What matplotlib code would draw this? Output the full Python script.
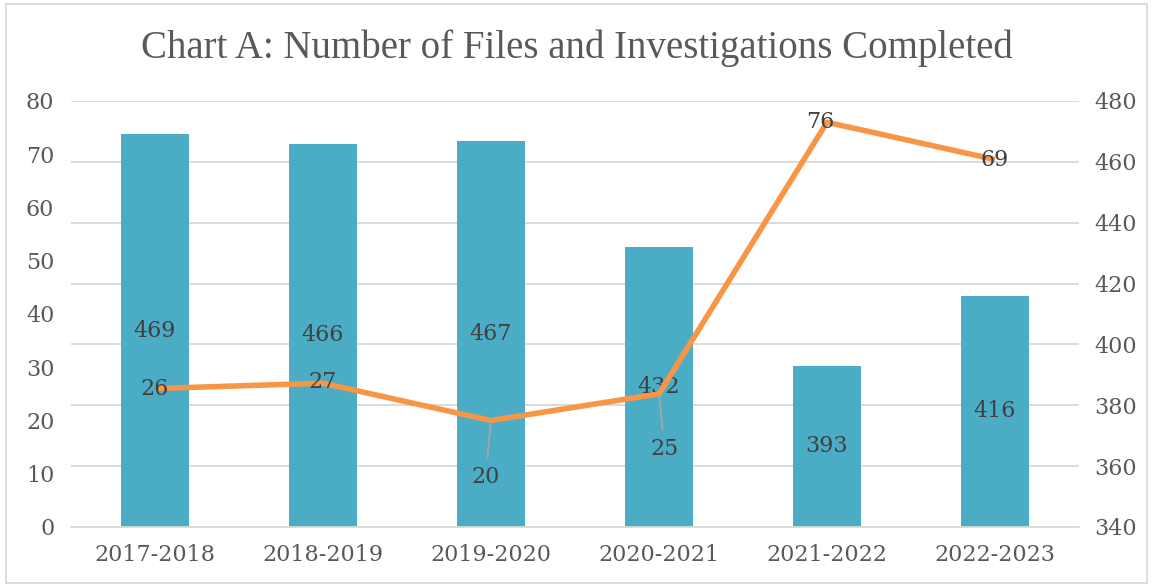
import numpy as np
import matplotlib.pyplot as plt
from matplotlib.patches import Rectangle

years = ['2017-2018', '2018-2019', '2019-2020', '2020-2021', '2021-2022', '2022-2023']
files = [469, 466, 467, 432, 393, 416]          # bars, right axis
investigations = [26, 27, 20, 25, 76, 69]       # line, left axis

bar_color = '#4BACC6'
line_color = '#F79646'
grid_color = '#D9D9D9'
tick_color = '#595959'
label_color = '#404040'
font = 'DejaVu Serif'

fig = plt.figure(figsize=(11.53, 5.86), dpi=100)
ax1 = fig.add_axes([0.0616, 0.1007, 0.8742, 0.7270])
ax2 = ax1.twinx()

x = np.arange(len(years))

# bars on the secondary axis, drawn underneath the line
bars = ax2.bar(x, files, width=0.4, color=bar_color, zorder=2)
ax2.set_ylim(340, 480)
ax2.set_yticks(np.arange(340, 481, 20))
ax2.grid(axis='y', color=grid_color, linewidth=1.3, zorder=0)
ax2.set_axisbelow(True)
ax2.bar_label(bars, labels=[str(v) for v in files], label_type='center',
              fontsize=16, color=label_color, family=font)

ax1.set_zorder(ax2.get_zorder() + 1)
ax1.patch.set_visible(False)
ax1.plot(x, investigations, color=line_color, linewidth=4, solid_capstyle='butt', zorder=3)
ax1.set_ylim(0, 80)
ax1.set_yticks(np.arange(0, 81, 10))
ax1.set_xlim(-0.5, len(years) - 0.5)
ax1.set_xticks(x)
ax1.set_xticklabels(years)

# line data labels; a few are pushed below with leader lines
offsets = [(0, 0), (0, 1), (-4, -41), (4, -40), (-5, 0), (0, 0)]
for xi, v, (dx, dy) in zip(x, investigations, offsets):
    if dy < -10:
        ax1.annotate(str(v), (xi, v), xytext=(dx, dy), textcoords='offset points',
                     ha='center', va='center', fontsize=16, color=label_color, family=font,
                     arrowprops=dict(arrowstyle='-', color='#A6A6A6', lw=1.3,
                                     shrinkA=4, shrinkB=0))
    else:
        ax1.annotate(str(v), (xi, v), xytext=(dx, dy), textcoords='offset points',
                     ha='center', va='center', fontsize=16, color=label_color, family=font)

for ax in (ax1, ax2):
    for s in ax.spines.values():
        s.set_visible(False)
    ax.tick_params(length=0, labelsize=16, labelcolor=tick_color)
    for t in ax.get_xticklabels() + ax.get_yticklabels():
        t.set_family(font)
ax1.spines['bottom'].set_visible(True)
ax1.spines['bottom'].set_color(grid_color)
ax1.spines['bottom'].set_linewidth(1.3)
ax1.tick_params(axis='x', pad=12)
ax1.tick_params(axis='y', pad=12)
ax2.tick_params(axis='y', pad=11)

fig.text(0.5, 0.918, 'Chart A: Number of Files and Investigations Completed',
         ha='center', va='center', fontsize=28, color=tick_color, family='Liberation Serif')

fig.patches.append(Rectangle((0.005, 0.005), 0.99, 0.988, transform=fig.transFigure,
                             fill=False, edgecolor=grid_color, linewidth=1.3))

fig.savefig('out.png', dpi=100)
